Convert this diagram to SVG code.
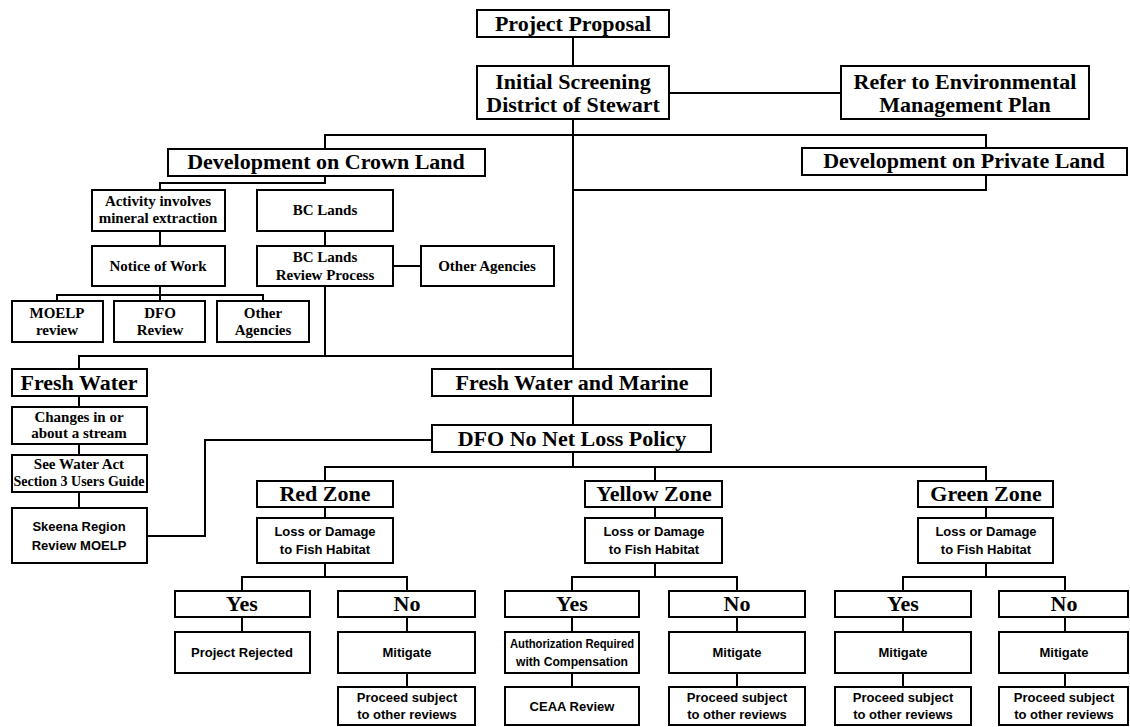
<svg xmlns="http://www.w3.org/2000/svg" width="1130" height="727" viewBox="0 0 1130 727">
<style>
.b{fill:#fff;stroke:#000;stroke-width:2}
.c{fill:none;stroke:#000;stroke-width:2}
text{fill:#000;text-anchor:middle;font-weight:bold}
.h{font-family:"Liberation Serif",serif;font-size:22px}
.s{font-family:"Liberation Serif",serif;font-size:15px}
.g{font-family:"Liberation Sans",sans-serif;font-size:13px}
</style>
<rect width="1130" height="727" fill="#fff"/>
<g id="connectors">
<path class="c" d="M573 37V66M573 119V369M573 396V425M573 452V467M669 93H841"/>
<path class="c" d="M325 149V135H986V148M986 175V190H573"/>
<path class="c" d="M325 176V183H160V190M160 231V246M325 231V246M393 266H421M160 286V295M57 301V295H263V301M160 295V301"/>
<path class="c" d="M325 286V356M79 369V356H573M79 396V407M79 444V455M79 492V508M147 536H205V440H432"/>
<path class="c" d="M325 481V467H986V481M655 467V481"/>
<path class="c" d="M325 507V518M655 507V518M986 507V518"/>
<path class="c" d="M325 563V577M242 591V577H407V591M655 563V577M572 591V577H737V591M986 563V577M903 591V577H1065V591"/>
<path class="c" d="M242 617V632M407 617V632M572 617V632M737 617V632M903 617V632M1065 617V632"/>
<path class="c" d="M407 673V687M572 673V687M737 673V687M903 673V687M1065 673V687"/>
</g>
<g id="project-proposal"><rect class="b" x="477" y="10" width="192" height="27"/><text class="h" x="573" y="31">Project Proposal</text></g>
<g id="initial-screening"><rect class="b" x="477" y="66" width="192" height="53"/><text class="h" x="573" y="89">Initial Screening</text><text class="h" x="573" y="112">District of Stewart</text></g>
<g id="refer-emp"><rect class="b" x="841" y="66" width="248" height="53"/><text class="h" x="965" y="89">Refer to Environmental</text><text class="h" x="965" y="112">Management Plan</text></g>
<g id="crown-land"><rect class="b" x="168" y="149" width="317" height="27"/><text class="h" x="326" y="169">Development on Crown Land</text></g>
<g id="private-land"><rect class="b" x="802" y="148" width="325" height="27"/><text class="h" x="964" y="168">Development on Private Land</text></g>
<g id="activity"><rect class="b" x="92" y="190" width="133" height="41"/><text class="s" x="158" y="206">Activity involves</text><text class="s" x="158" y="223">mineral extraction</text></g>
<g id="bc-lands"><rect class="b" x="257" y="190" width="136" height="41"/><text class="s" x="325" y="215">BC Lands</text></g>
<g id="notice-of-work"><rect class="b" x="92" y="246" width="133" height="40"/><text class="s" x="158" y="271">Notice of Work</text></g>
<g id="bc-lands-review"><rect class="b" x="257" y="246" width="136" height="40"/><text class="s" x="325" y="262">BC Lands</text><text class="s" x="325" y="280">Review Process</text></g>
<g id="other-agencies-1"><rect class="b" x="421" y="246" width="133" height="40"/><text class="s" x="487" y="271">Other Agencies</text></g>
<g id="moelp-review"><rect class="b" x="12" y="301" width="91" height="41"/><text class="s" x="57" y="318">MOELP</text><text class="s" x="57" y="335">review</text></g>
<g id="dfo-review"><rect class="b" x="114" y="301" width="91" height="41"/><text class="s" x="160" y="318">DFO</text><text class="s" x="160" y="335">Review</text></g>
<g id="other-agencies-2"><rect class="b" x="217" y="301" width="92" height="41"/><text class="s" x="263" y="318">Other</text><text class="s" x="263" y="335">Agencies</text></g>
<g id="fresh-water"><rect class="b" x="12" y="369" width="135" height="27"/><text class="h" x="79" y="390">Fresh Water</text></g>
<g id="changes-stream"><rect class="b" x="12" y="407" width="135" height="37"/><text class="s" x="79" y="422">Changes in or</text><text class="s" x="79" y="438">about a stream</text></g>
<g id="water-act"><rect class="b" x="12" y="455" width="135" height="37"/><text class="s" x="79" y="469">See Water Act</text><text class="s" x="79" y="486" textLength="131" lengthAdjust="spacingAndGlyphs">Section 3 Users Guide</text></g>
<g id="skeena"><rect class="b" x="12" y="508" width="135" height="55"/><text class="g" x="79" y="531">Skeena Region</text><text class="g" x="79" y="550">Review MOELP</text></g>
<g id="fresh-water-marine"><rect class="b" x="432" y="369" width="279" height="27"/><text class="h" x="572" y="390">Fresh Water and Marine</text></g>
<g id="dfo-nnl"><rect class="b" x="432" y="425" width="279" height="27"/><text class="h" x="572" y="446">DFO No Net Loss Policy</text></g>
<g id="red-zone"><rect class="b" x="257" y="481" width="136" height="26"/><text class="h" x="325" y="501">Red Zone</text></g>
<g id="yellow-zone"><rect class="b" x="585" y="481" width="137" height="26"/><text class="h" x="654" y="501">Yellow Zone</text></g>
<g id="green-zone"><rect class="b" x="918" y="481" width="135" height="26"/><text class="h" x="986" y="501">Green Zone</text></g>
<g id="red-loss"><rect class="b" x="257" y="518" width="136" height="45"/><text class="g" x="325" y="536">Loss or Damage</text><text class="g" x="325" y="554">to Fish Habitat</text></g>
<g id="yellow-loss"><rect class="b" x="585" y="518" width="137" height="45"/><text class="g" x="654" y="536">Loss or Damage</text><text class="g" x="654" y="554">to Fish Habitat</text></g>
<g id="green-loss"><rect class="b" x="918" y="518" width="135" height="45"/><text class="g" x="986" y="536">Loss or Damage</text><text class="g" x="986" y="554">to Fish Habitat</text></g>
<g id="red-yes"><rect class="b" x="175" y="591" width="135" height="26"/><text class="h" x="242" y="611">Yes</text></g>
<g id="red-no"><rect class="b" x="338" y="591" width="137" height="26"/><text class="h" x="407" y="611">No</text></g>
<g id="yellow-yes"><rect class="b" x="505" y="591" width="134" height="26"/><text class="h" x="572" y="611">Yes</text></g>
<g id="yellow-no"><rect class="b" x="669" y="591" width="136" height="26"/><text class="h" x="737" y="611">No</text></g>
<g id="green-yes"><rect class="b" x="835" y="591" width="136" height="26"/><text class="h" x="903" y="611">Yes</text></g>
<g id="green-no"><rect class="b" x="999" y="591" width="129" height="26"/><text class="h" x="1064" y="611">No</text></g>
<g id="project-rejected"><rect class="b" x="175" y="632" width="135" height="41"/><text class="g" x="242" y="657">Project Rejected</text></g>
<g id="red-mitigate"><rect class="b" x="338" y="632" width="137" height="41"/><text class="g" x="407" y="657">Mitigate</text></g>
<g id="authorization"><rect class="b" x="505" y="632" width="134" height="41"/><text class="g" x="572" y="648" textLength="124" lengthAdjust="spacingAndGlyphs">Authorization Required</text><text class="g" x="572" y="666" textLength="112" lengthAdjust="spacingAndGlyphs">with Compensation</text></g>
<g id="yellow-mitigate"><rect class="b" x="669" y="632" width="136" height="41"/><text class="g" x="737" y="657">Mitigate</text></g>
<g id="green-yes-mitigate"><rect class="b" x="835" y="632" width="136" height="41"/><text class="g" x="903" y="657">Mitigate</text></g>
<g id="green-no-mitigate"><rect class="b" x="999" y="632" width="129" height="41"/><text class="g" x="1064" y="657">Mitigate</text></g>
<g id="red-proceed"><rect class="b" x="338" y="687" width="137" height="38"/><text class="g" x="407" y="702">Proceed subject</text><text class="g" x="407" y="719">to other reviews</text></g>
<g id="ceaa-review"><rect class="b" x="505" y="687" width="134" height="38"/><text class="g" x="572" y="711">CEAA Review</text></g>
<g id="yellow-proceed"><rect class="b" x="669" y="687" width="136" height="38"/><text class="g" x="737" y="702">Proceed subject</text><text class="g" x="737" y="719">to other reviews</text></g>
<g id="green-yes-proceed"><rect class="b" x="835" y="687" width="136" height="38"/><text class="g" x="903" y="702">Proceed subject</text><text class="g" x="903" y="719">to other reviews</text></g>
<g id="green-no-proceed"><rect class="b" x="999" y="687" width="129" height="38"/><text class="g" x="1064" y="702">Proceed subject</text><text class="g" x="1064" y="719">to other reviews</text></g>
</svg>
